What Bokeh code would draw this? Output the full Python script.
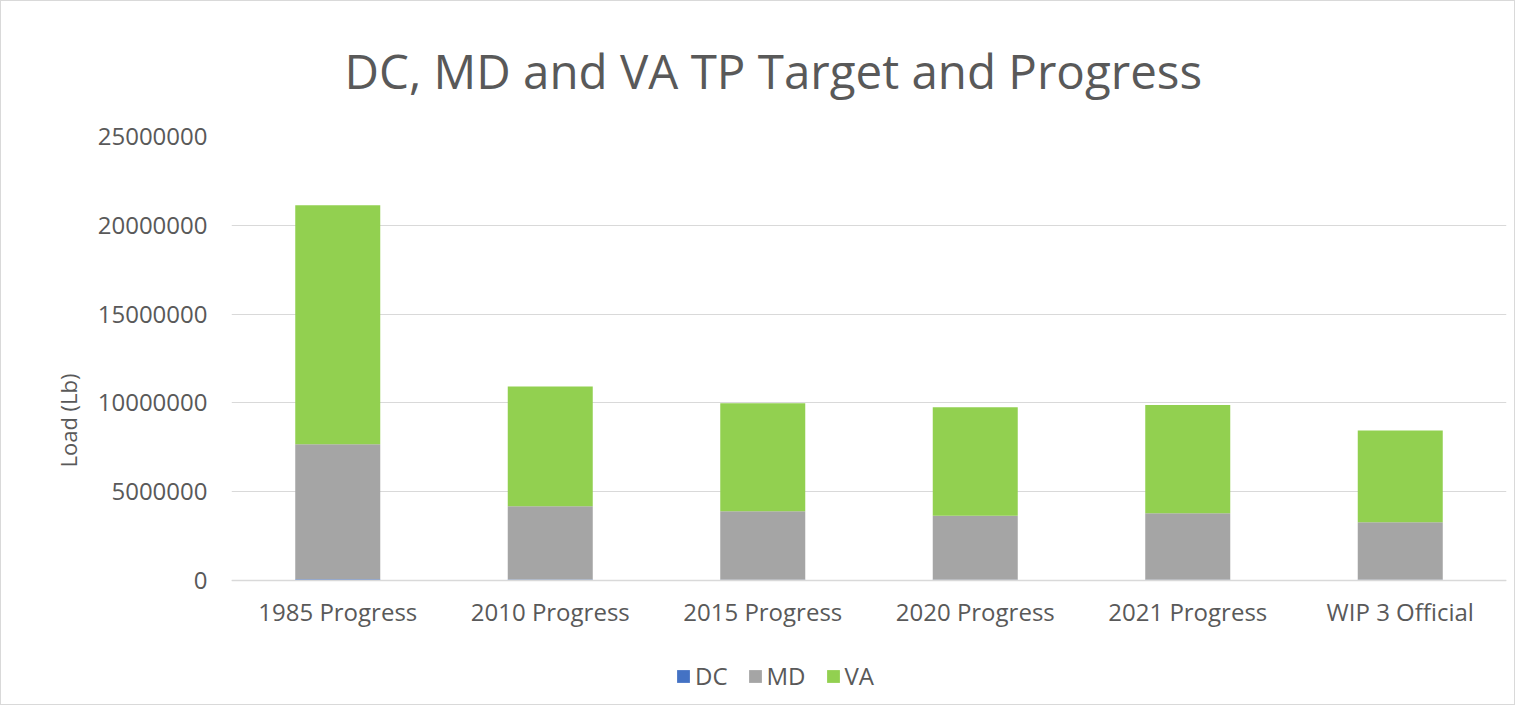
from bokeh.plotting import figure
from bokeh.models import Range1d, FixedTicker, BasicTickFormatter, Legend, LegendItem, Title
from bokeh.embed import file_html
from bokeh.resources import INLINE

categories = ["1985 Progress", "2010 Progress", "2015 Progress", "2020 Progress", "2021 Progress", "WIP 3 Official"]
dc = [60000, 40000, 35000, 30000, 30000, 30000]
md = [7600000, 4130000, 3850000, 3610000, 3740000, 3240000]
va = [13470000, 6740000, 6090000, 6100000, 6100000, 5160000]
y_ticks = [0, 5000000, 10000000, 15000000, 20000000, 25000000]

series = ["DC", "MD", "VA"]
colors = ["#4472C4", "#A5A5A5", "#92D050"]
FONT = "Open Sans"
TXT = "#595959"

data = dict(cat=categories, DC=dc, MD=md, VA=va)

# frame extends below zero so that the legend can sit under the category labels
p = figure(x_range=categories, y_range=Range1d(-7000000, 25000000),
           frame_width=1275, frame_height=568, output_backend="svg", toolbar_location=None,
           min_border_left=230, min_border_right=8, min_border_top=132, min_border_bottom=0)

renderers = p.vbar_stack(series, x="cat", width=0.4, color=colors, source=data,
                         line_color=None)

p.title = Title(text="DC, MD and VA TP Target and Progress", align="left",
                text_font=FONT, text_font_size="47.5px", text_font_style="normal",
                text_color=TXT, offset=113, standoff=68)

p.yaxis.ticker = FixedTicker(ticks=y_ticks)
p.yaxis.formatter = BasicTickFormatter(use_scientific=False)
p.yaxis.axis_label = "Load (Lb)"
p.yaxis.axis_label_text_font = FONT
p.yaxis.axis_label_text_font_size = "22px"
p.yaxis.axis_label_text_font_style = "normal"
p.yaxis.axis_label_text_color = TXT
p.yaxis.axis_label_standoff = 12
p.yaxis.axis_line_color = None
p.yaxis.major_tick_line_color = None
p.yaxis.minor_tick_line_color = None
p.yaxis.major_label_standoff = 18
p.yaxis.major_label_text_font = FONT
p.yaxis.major_label_text_font_size = "24px"
p.yaxis.major_label_text_color = TXT
p.yaxis.axis_label_text_baseline = "middle"

p.xaxis.fixed_location = 0
p.xaxis.axis_line_color = "#D9D9D9"
p.xaxis.axis_line_width = 1.5
p.xaxis.major_tick_line_color = None
p.xaxis.minor_tick_line_color = None
p.xaxis.major_label_standoff = 9
p.xaxis.major_label_text_font = FONT
p.xaxis.major_label_text_font_size = "24px"
p.xaxis.major_label_text_color = TXT

p.xgrid.grid_line_color = None
p.ygrid.grid_line_color = "#D9D9D9"
p.ygrid.grid_line_width = 1.2
p.outline_line_color = None

p.x_range.range_padding = 0.0

legend = Legend(items=[LegendItem(label=s, renderers=[r]) for s, r in zip(series, renderers)],
                orientation="horizontal", location=(444, 12),
                label_text_font=FONT, label_text_font_size="24px", label_text_color=TXT,
                glyph_width=16, glyph_height=16, spacing=19, label_standoff=4,
                border_line_color=None, background_fill_alpha=0, margin=0, padding=0)
p.add_layout(legend, "center")

p.styles = {"border": "1px solid #D9D9D9"}

open("out.html", "w").write(file_html(p, INLINE))
